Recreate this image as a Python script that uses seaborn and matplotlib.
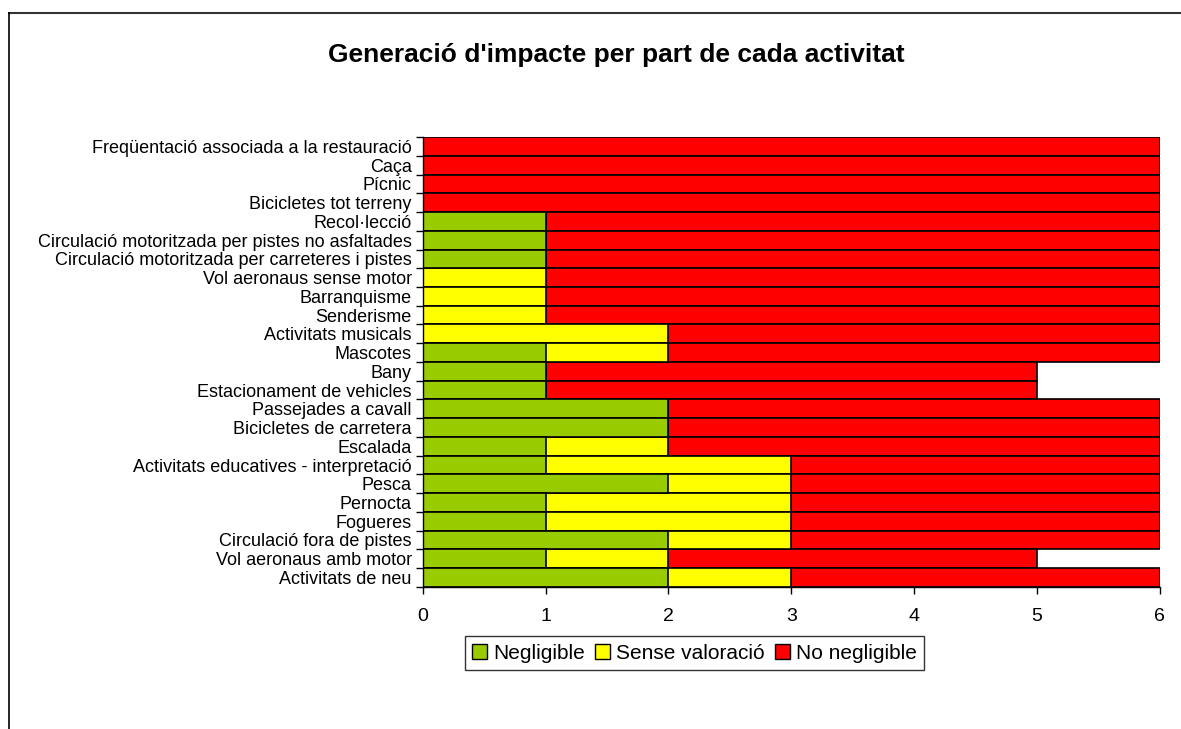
import numpy as np
import pandas as pd
import matplotlib
matplotlib.use("Agg")
import matplotlib.pyplot as plt
import seaborn as sns
from matplotlib.patches import Patch
from matplotlib.lines import Line2D
from matplotlib.ticker import FixedLocator

activities = [
    "Freqüentació associada a la restauració",
    "Caça",
    "Pícnic",
    "Bicicletes tot terreny",
    "Recol·lecció",
    "Circulació motoritzada per pistes no asfaltades",
    "Circulació motoritzada per carreteres i pistes",
    "Vol aeronaus sense motor",
    "Barranquisme",
    "Senderisme",
    "Activitats musicals",
    "Mascotes",
    "Bany",
    "Estacionament de vehicles",
    "Passejades a cavall",
    "Bicicletes de carretera",
    "Escalada",
    "Activitats educatives - interpretació",
    "Pesca",
    "Pernocta",
    "Fogueres",
    "Circulació fora de pistes",
    "Vol aeronaus amb motor",
    "Activitats de neu",
]
negligible = [0, 0, 0, 0, 1, 1, 1, 0, 0, 0, 0, 1, 1, 1, 2, 2, 1, 1, 2, 1, 1, 2, 1, 2]
sense_valoracio = [0, 0, 0, 0, 0, 0, 0, 1, 1, 1, 2, 1, 0, 0, 0, 0, 1, 2, 1, 2, 2, 1, 1, 1]
no_negligible = [6, 6, 6, 6, 5, 5, 5, 5, 5, 5, 4, 4, 4, 4, 4, 4, 4, 3, 3, 3, 3, 3, 3, 3]

series_names = ["Negligible", "Sense valoració", "No negligible"]
colors = ["#99CC00", "#FFFF00", "#FF0000"]

df = pd.DataFrame({
    "activitat": activities,
    "neg": negligible,
    "sv": sense_valoracio,
    "nn": no_negligible,
})
df["c1"] = df["neg"]
df["c2"] = df["neg"] + df["sv"]
df["c3"] = df["c2"] + df["nn"]

plt.rcParams["font.family"] = ["Liberation Sans", "DejaVu Sans"]

fig = plt.figure(figsize=(11.81, 7.29), dpi=100)
ax = fig.add_axes([0.358, 0.195, 0.624, 0.617])

# stacked bars: draw cumulative totals back to front
for col, c in zip(["c3", "c2", "c1"], colors[::-1]):
    sns.barplot(data=df, x=col, y="activitat", orient="h", color=c,
                width=1.0, edgecolor="black", linewidth=1.2, ax=ax,
                saturation=1)

ax.set_xlim(0, 6)
ax.set_ylim(len(activities) - 0.5, -0.5)
ax.set_xticks(range(7))
ax.set_xlabel("")
ax.set_ylabel("")
ax.tick_params(axis="x", labelsize=14, length=5, width=1, pad=10, direction="out")
ax.tick_params(axis="y", which="major", labelsize=13, length=0, pad=8)
ax.yaxis.set_minor_locator(FixedLocator(np.arange(-0.5, len(activities), 1)))
ax.tick_params(axis="y", which="minor", length=5, width=1, direction="out")
for s in ["top", "right"]:
    ax.spines[s].set_visible(False)
for s in ["left", "bottom"]:
    ax.spines[s].set_color("black")
    ax.spines[s].set_linewidth(1)
ax.set_facecolor("white")

fig.text(0.522, 0.925, "Generació d'impacte per part de cada activitat",
         ha="center", va="center", fontsize=19, fontweight="bold")

handles = [Patch(facecolor=c, edgecolor="black", label=n) for c, n in zip(colors, series_names)]
leg = fig.legend(handles=handles, loc="center", bbox_to_anchor=(0.588, 0.104), ncol=3,
                 fontsize=15, frameon=True, fancybox=False, edgecolor="black",
                 handlelength=0.7, handleheight=0.7, handletextpad=0.3,
                 columnspacing=0.5, borderpad=0.35)
leg.get_frame().set_linewidth(1)

# outer frame (partially visible)
fig.add_artist(Line2D([0.0076, 1.0], [0.982, 0.982], color="#333333", linewidth=1.5,
                      transform=fig.transFigure))
fig.add_artist(Line2D([0.0076, 0.0076], [0.0, 0.982], color="black", linewidth=1.2,
                      transform=fig.transFigure))

fig.savefig("out.png", dpi=100)
